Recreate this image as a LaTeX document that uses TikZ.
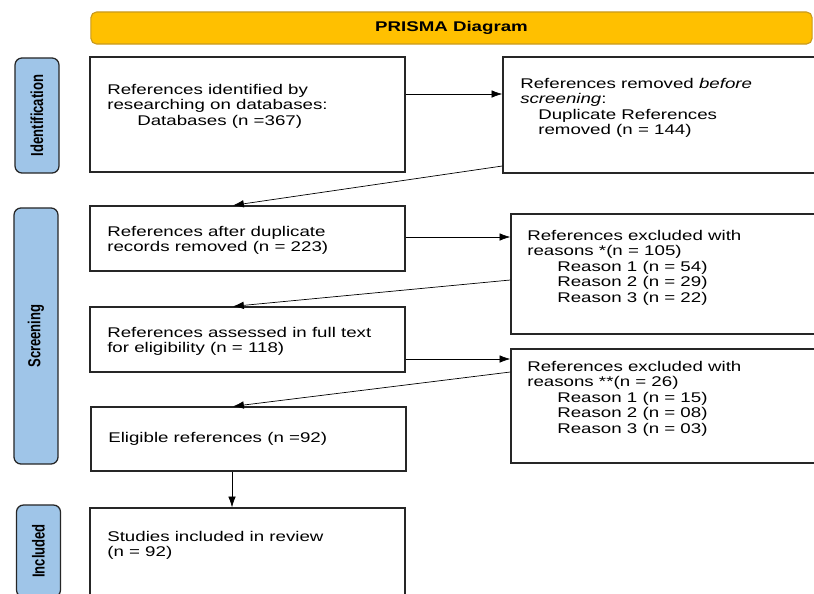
\documentclass[tikz,border=0pt]{standalone}
\usepackage{fontspec}
\setmainfont[FakeStretch=1.33]{Liberation Sans}
\newfontfamily\pillfont{Liberation Sans}
\usepackage{graphicx}
\usepackage{xcolor}
\usetikzlibrary{arrows.meta}
\definecolor{prismagold}{HTML}{FFC000}
\definecolor{prismaedge}{HTML}{C99A1E}
\definecolor{stageblue}{HTML}{9FC5E8}
\newcommand{\stagetext}[1]{\rotatebox{90}{\scalebox{1}[1.33]{\pillfont\bfseries\fontsize{9.3}{10}\selectfont #1}}}

\begin{document}
\begin{tikzpicture}[x=0.025cm, y=-0.025cm,
    every node/.style={inner sep=0pt},
    box/.style={draw=black!85, line width=0.9pt, minimum width=7.875cm},
    sidebox/.style={draw=black!85, line width=0.9pt, minimum width=8.3cm},
    stage/.style={draw=black!85, line width=0.9pt, fill=stageblue, rounded corners=5pt, minimum width=1.1cm},
    txt/.style={anchor=north west, align=left, font=\fontsize{10}{11}\selectfont},
    arr/.style={-{Latex[length=2.7mm,width=1.9mm]}, line width=0.5pt}]
  \useasboundingbox (0,0) rectangle (814,593);
  \clip (0,0) rectangle (814,593);

  % title bar
  \node[draw=prismaedge, fill=prismagold, rounded corners=4pt, line width=0.8pt,
        minimum width=18.025cm, minimum height=0.8cm,
        font=\bfseries\fontsize{10}{11}\selectfont] (banner) at (451.5,28) {PRISMA Diagram};

  % stages
  \node[stage, minimum height=2.875cm] (sid) at (37,115.5) {\stagetext{Identification}};
  \node[stage, minimum height=6.4cm] (sscr) at (36,336) {\stagetext{Screening}};
  \node[stage, minimum height=2.3cm] (sinc) at (38.5,551) {\stagetext{Included}};

  % boxes
  \node[box, minimum height=2.875cm] (idbox) at (247.5,114.5) {};
  \node[sidebox, minimum height=2.9cm] (rmbox) at (669,115) {};
  \node[box, minimum height=1.625cm] (dupbox) at (247.5,238.5) {};
  \node[sidebox, minimum height=3cm] (exabox) at (677,274) {};
  \node[box, minimum height=1.625cm] (fullbox) at (247.5,339.5) {};
  \node[sidebox, minimum height=2.85cm] (exbbox) at (677,406) {};
  \node[box, minimum height=1.6cm] (eligbox) at (248.5,439) {};
  \node[box, minimum height=3.3cm] (inclbox) at (247.5,574) {};

  % texts
  \node[txt] (t1) at (107,84) {References identified by\\researching on databases:\\\hspace*{0.75cm}Databases (n =367)};
  \node[txt] (t2) at (520,78) {References removed \textit{before}\\\textit{screening}:\\\hspace*{0.45cm}Duplicate References\\\hspace*{0.45cm}removed (n = 144)};
  \node[txt] (t3) at (107,226) {References after duplicate\\records removed (n = 223)};
  \node[txt] (t4) at (527,230) {References excluded with\\reasons *(n = 105)\\\hspace*{0.75cm}Reason 1 (n = 54)\\\hspace*{0.75cm}Reason 2 (n = 29)\\\hspace*{0.75cm}Reason 3 (n = 22)};
  \node[txt] (t5) at (107,327) {References assessed in full text\\for eligibility (n = 118)};
  \node[txt] (t6) at (527,361) {References excluded with\\reasons **(n = 26)\\\hspace*{0.75cm}Reason 1 (n = 15)\\\hspace*{0.75cm}Reason 2 (n = 08)\\\hspace*{0.75cm}Reason 3 (n = 03)};
  \node[txt] (t7) at (108,432) {Eligible references (n =92)};
  \node[txt] (t8) at (107,531) {Studies included in review\\(n = 92)};

  % arrows
  \foreach \from/\to/\y in {idbox/rmbox/94,dupbox/exabox/237,fullbox/exbbox/359}
    \draw[arr] (\from.east |- 0,\y) -- (\to.west |- 0,\y);
  \draw[arr] (rmbox.west |- 0,166) -- (dupbox.north -| 233,0);
  \draw[arr] (exabox.west |- 0,280) -- (fullbox.north -| 233,0);
  \draw[arr] (exbbox.west |- 0,372) -- (eligbox.north -| 233,0);
  \draw[arr] (eligbox.south -| 232,0) -- (inclbox.north -| 232,0);
\end{tikzpicture}
\end{document}
